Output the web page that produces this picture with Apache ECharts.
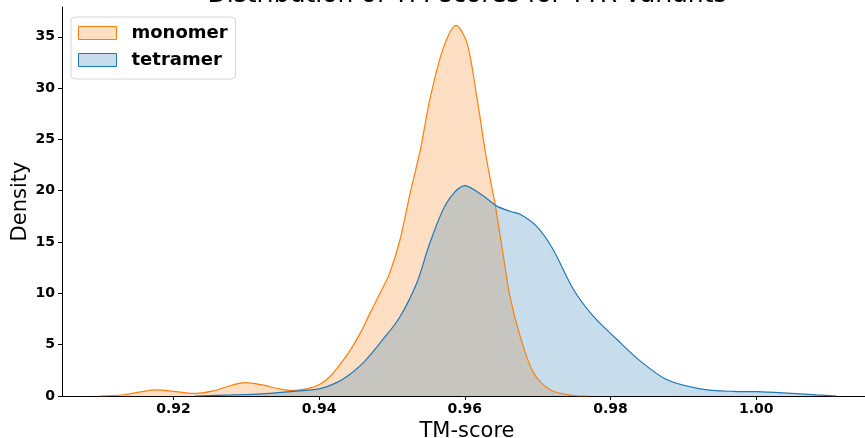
<!DOCTYPE html>
<html>
<head>
<meta charset="utf-8">
<script src="https://cdn.jsdelivr.net/npm/echarts@6/dist/echarts.min.js"></script>
<style>
  html, body { margin: 0; padding: 0; background: #fff; }
  #chart { width: 865px; height: 438px; }
</style>
</head>
<body>
<div id="chart"></div>
<script>
  // KDE curves: [TM-score, density]
  const monomerCurve = [
    [0.9098, 0], [0.9130, 0.1], [0.9155, 0.4], [0.9177, 0.6], [0.9200, 0.45],
    [0.9227, 0.25], [0.9255, 0.5], [0.9280, 1.05], [0.9298, 1.3], [0.9320, 1.1],
    [0.9345, 0.7], [0.9364, 0.55], [0.9385, 0.75], [0.9400, 1.1], [0.9415, 1.9],
    [0.9430, 3.2], [0.9443, 4.5], [0.9457, 6.2], [0.9470, 8.1], [0.9485, 10.2],
    [0.9497, 12.0], [0.9511, 15.2], [0.9525, 19.8], [0.9539, 24.0], [0.9552, 28.9],
    [0.9570, 33.8], [0.9588, 36.1], [0.9603, 34.4], [0.9617, 28.9], [0.9630, 23.0],
    [0.9642, 18.5], [0.9653, 13.6], [0.9662, 9.7], [0.9676, 5.8], [0.9694, 2.3],
    [0.9717, 0.6], [0.9749, 0.05], [0.9770, 0]
  ];
  const tetramerCurve = [
    [0.9230, 0], [0.9280, 0.1], [0.9320, 0.2], [0.9364, 0.45], [0.9400, 0.7],
    [0.9424, 1.3], [0.9440, 2.0], [0.9460, 3.2], [0.9484, 5.2], [0.9510, 7.6],
    [0.9534, 11.0], [0.9552, 14.9], [0.9575, 18.8], [0.9600, 20.5], [0.9625, 19.5],
    [0.9644, 18.5], [0.9662, 18.0], [0.9676, 17.7], [0.9699, 16.5], [0.9721, 14.3],
    [0.9749, 10.4], [0.9776, 7.8], [0.9809, 5.5], [0.9841, 3.4], [0.9877, 1.6],
    [0.9923, 0.7], [0.9968, 0.45], [1.0001, 0.42], [1.0037, 0.3], [1.0083, 0.1],
    [1.0110, 0]
  ];
  const xTicks = [0.92, 0.94, 0.96, 0.98, 1.00];
  const yTicks = [0, 5, 10, 15, 20, 25, 30, 35];

  const ORANGE = '#ff7f0e';
  const BLUE = '#1f77b4';
  const FONT = '"DejaVu Sans", sans-serif';

  const chart = echarts.init(document.getElementById('chart'));

  function kdeSeries(name, data, color) {
    return {
      name: name,
      type: 'line',
      data: data,
      smooth: 0.3,
      showSymbol: false,
      symbol: 'none',
      silent: true,
      lineStyle: { color: color, width: 1.2 },
      itemStyle: { color: color },
      areaStyle: { color: color, opacity: 0.25 },
    };
  }

  chart.setOption({
    animation: false,
    backgroundColor: '#fff',
    grid: { left: 62, right: -7, top: 7, bottom: 42, outerBoundsMode: 'none', containLabel: false },
    graphic: [{
      type: 'text',
      x: 467,
      y: -5,
      style: {
        text: 'Distribution of TM-scores for TTR variants',
        font: '25px "DejaVu Sans", sans-serif',
        fill: '#000',
        textAlign: 'center',
        textVerticalAlign: 'middle',
      },
    }],
    legend: {
      orient: 'vertical',
      left: 71,
      top: 17,
      padding: [6, 8, 9, 7],
      itemWidth: 38,
      itemHeight: 13,
      itemGap: 7,
      backgroundColor: '#fff',
      borderColor: '#d6d6d6',
      borderWidth: 1,
      borderRadius: 4,
      selectedMode: false,
      textStyle: {
        fontFamily: FONT,
        fontSize: 18,
        fontWeight: 'bold',
        color: '#000',
        lineHeight: 20,
        padding: [0, 0, 0, 10],
      },
      data: [
        { name: 'monomer', icon: 'rect', itemStyle: { color: 'rgba(255,127,14,0.25)', borderColor: ORANGE, borderWidth: 1 } },
        { name: 'tetramer', icon: 'rect', itemStyle: { color: 'rgba(31,119,180,0.25)', borderColor: BLUE, borderWidth: 1 } },
      ],
    },
    xAxis: {
      type: 'value',
      min: 0.9047,
      max: 1.0159,
      name: 'TM-score',
      nameLocation: 'middle',
      nameGap: 25,
      nameMoveOverlap: false,
      nameTextStyle: { fontFamily: FONT, fontSize: 21, color: '#000' },
      axisLine: { show: true, onZero: false, lineStyle: { color: '#000', width: 1 } },
      axisTick: { show: true, length: 4, customValues: xTicks, lineStyle: { color: '#000' } },
      axisLabel: {
        customValues: xTicks,
        formatter: (v) => v.toFixed(2),
        fontFamily: FONT,
        fontSize: 14,
        fontWeight: 'bold',
        color: '#000',
        margin: 6,
      },
      splitLine: { show: false },
    },
    yAxis: {
      type: 'value',
      min: 0,
      max: 37.9,
      name: 'Density',
      nameLocation: 'middle',
      nameGap: 31,
      nameMoveOverlap: false,
      nameTextStyle: { fontFamily: FONT, fontSize: 21, color: '#000' },
      axisLine: { show: true, lineStyle: { color: '#000', width: 1 } },
      axisTick: { show: true, length: 4, customValues: yTicks, lineStyle: { color: '#000' } },
      axisLabel: {
        customValues: yTicks,
        fontFamily: FONT,
        fontSize: 14,
        fontWeight: 'bold',
        color: '#000',
        margin: 7,
      },
      splitLine: { show: false },
    },
    series: [
      kdeSeries('monomer', monomerCurve, ORANGE),
      kdeSeries('tetramer', tetramerCurve, BLUE),
    ],
  });
</script>
</body>
</html>
